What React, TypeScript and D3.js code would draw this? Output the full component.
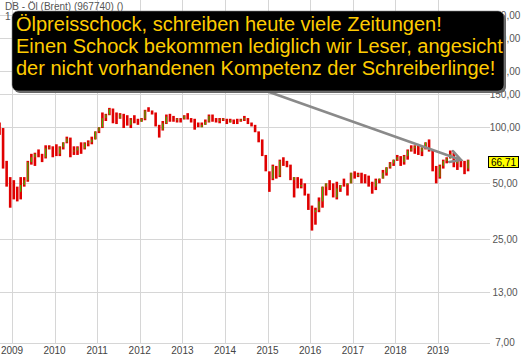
import React, { useEffect, useRef } from "react";
import * as d3 from "d3";

// Brent, monthly open / high / low / close
const y2008 = [
  [102, 106, 91, 98],
  [98, 99, 60, 65],
  [65, 66, 48, 53],
  [53, 54, 37, 45],
];
const y2009 = [
  [46, 52, 41, 46], [46, 48, 40, 45], [45, 54, 41, 49], [49, 54, 48, 52],
  [52, 66, 51, 65], [65, 72, 63, 69], [69, 73, 62, 72], [72, 76, 69, 70],
  [70, 72, 65, 69], [69, 80, 68, 77], [77, 80, 76, 78], [78, 79, 69, 78],
];
const y2010 = [
  [78, 81, 70, 72], [72, 79, 70, 78], [78, 83, 76, 83], [83, 89, 82, 87],
  [87, 88, 69, 74], [74, 79, 71, 75], [75, 79, 71, 78], [78, 83, 72, 77],
  [77, 83, 76, 82], [82, 85, 79, 83], [83, 89, 81, 86], [86, 95, 86, 95],
];
const y2011 = [
  [95, 100, 93, 100], [100, 120, 99, 112], [112, 118, 108, 117], [117, 127, 116, 125],
  [125, 126, 105, 116], [116, 120, 104, 112], [112, 119, 111, 117], [117, 118, 99, 115],
  [115, 116, 102, 103], [103, 112, 99, 110], [110, 116, 105, 110], [110, 111, 103, 107],
];
const y2012 = [
  [107, 112, 107, 111], [111, 124, 109, 123], [123, 128, 121, 123], [123, 123, 117, 119],
  [119, 120, 101, 102], [102, 103, 88, 97], [97, 108, 96, 105], [105, 117, 104, 114],
  [114, 118, 107, 112], [112, 115, 107, 109], [109, 112, 106, 111], [111, 112, 106, 111],
];
const y2013 = [
  [111, 116, 110, 115], [115, 119, 110, 111], [111, 112, 106, 110], [110, 111, 97, 102],
  [102, 106, 100, 100], [100, 106, 100, 103], [103, 110, 103, 107], [107, 117, 106, 115],
  [115, 117, 107, 108], [108, 112, 106, 108], [108, 112, 105, 110], [110, 112, 108, 111],
];
const y2014 = [
  [111, 111, 104, 106], [106, 111, 106, 109], [109, 110, 104, 108], [108, 111, 104, 108],
  [108, 111, 107, 110], [110, 115, 108, 112], [112, 112, 104, 106], [106, 106, 101, 103],
  [103, 103, 94, 95], [95, 95, 83, 85], [85, 86, 70, 70], [70, 71, 58, 57],
];
const y2015 = [
  [57, 58, 45, 53], [53, 63, 52, 62], [62, 62, 53, 55], [55, 67, 54, 66],
  [66, 69, 62, 65], [65, 66, 61, 63], [63, 63, 52, 52], [52, 54, 42, 54],
  [54, 54, 47, 48], [48, 53, 47, 49], [49, 50, 43, 44], [44, 44, 36, 37],
];
const y2016 = [
  [37, 38, 27.9, 35], [35, 37, 30, 36], [36, 42, 35, 40], [40, 48, 37, 48],
  [48, 50, 43, 50], [50, 52, 46, 50], [50, 50, 42, 42], [42, 51, 41, 47],
  [47, 49, 45, 49], [49, 53, 48, 49], [49, 50, 43, 50], [50, 57, 50, 57],
];
const y2017 = [
  [57, 58, 53, 55], [55, 57, 54, 56], [56, 57, 50, 53], [53, 56, 50, 52],
  [52, 55, 48, 50], [50, 51, 44, 48], [48, 53, 46, 52], [52, 53, 50, 53],
  [53, 59, 53, 57], [57, 61, 55, 61], [61, 65, 60, 64], [64, 67, 62, 67],
];
const y2018 = [
  [67, 71, 66, 69], [69, 70, 62, 65], [65, 71, 63, 70], [70, 76, 67, 75],
  [75, 80, 74, 77], [77, 80, 72, 79], [79, 80, 71, 74], [74, 78, 70, 78],
  [78, 83, 76, 83], [83, 86, 74, 75], [75, 76, 58, 59], [59, 62, 50, 54],
];
const y2019 = [
  [54, 63, 53, 62], [62, 67, 60, 66], [66, 69, 64, 68], [68, 75, 68, 72],
  [72, 73, 61, 64], [64, 67, 59, 65], [65, 67, 61, 65], [65, 66, 56, 60],
  [60, 67, 58, 66.71],
];

const years = [2009, 2010, 2011, 2012, 2013, 2014, 2015, 2016, 2017, 2018, 2019];
const priceTicks = [7, 13, 25, 50, 100, 150, 200, 300, 400];
const lastPrice = 66.71;

const title = "DB - Öl (Brent) (967740) ()";
const noteLines = [
  "Ölpreisschock, schreiben heute viele Zeitungen!",
  "Einen Schock bekommen lediglich wir Leser, angesicht",
  "der nicht vorhandenen Kompetenz der Schreiberlinge!",
];

const W = 530;
const H = 359;
const UP = "#3cb800";
const DOWN = "#e00000";
const GRID = "#d6d6d6";
const FONT = "'Liberation Sans', Arial, sans-serif";

function OilChart() {
  const svgRef = useRef(null);

  useEffect(() => {
    const svg = d3.select(svgRef.current);
    svg.selectAll("*").remove();

    const rows = [
      ...y2008, ...y2009, ...y2010, ...y2011, ...y2012, ...y2013,
      ...y2014, ...y2015, ...y2016, ...y2017, ...y2018, ...y2019,
    ];
    const months = d3.timeMonth.range(new Date(2008, 8, 1), new Date(2019, 9, 1));
    const data = rows.map((r, i) => ({
      date: months[i],
      open: r[0],
      high: r[1],
      low: r[2],
      close: r[3],
    }));

    const x = d3
      .scaleTime()
      .domain([new Date(2009, 0, 1), new Date(2019, 0, 1)])
      .range([12, 438]);
    const y = d3.scaleLog().domain([7, 400]).range([342.5, 15]);

    // grid
    const grid = svg.append("g");
    grid
      .selectAll(".hg")
      .data(priceTicks)
      .join("line")
      .attr("x1", 0)
      .attr("x2", 490)
      .attr("y1", d => Math.round(y(d)) + 0.5)
      .attr("y2", d => Math.round(y(d)) + 0.5)
      .attr("stroke", GRID);
    grid
      .selectAll(".vg")
      .data(years)
      .join("line")
      .attr("x1", d => Math.round(x(new Date(d, 0, 1))) + 0.5)
      .attr("x2", d => Math.round(x(new Date(d, 0, 1))) + 0.5)
      .attr("y1", 0)
      .attr("y2", Math.round(y(7)))
      .attr("stroke", GRID);

    // axis labels
    const fmt = d3.format(".2f");
    svg
      .append("g")
      .selectAll("text")
      .data(priceTicks)
      .join("text")
      .attr("x", 505)
      .attr("y", d => y(d))
      .attr("dy", "0.35em")
      .attr("text-anchor", "middle")
      .attr("font-family", FONT)
      .attr("font-size", 10)
      .attr("fill", "#555")
      .text(d => fmt(d).replace(".", ","));
    svg
      .append("g")
      .selectAll("text")
      .data(years)
      .join("text")
      .attr("x", d => x(new Date(d, 0, 1)))
      .attr("y", 354)
      .attr("text-anchor", "middle")
      .attr("font-family", FONT)
      .attr("font-size", 10)
      .attr("fill", "#444")
      .text(d => d);

    // candles: red high-low bar, thin green body for up months
    const cx = d => (x(d.date) + x(d3.timeMonth.offset(d.date, 1))) / 2;
    const candles = svg.append("g").selectAll("g").data(data).join("g");
    candles
      .append("rect")
      .attr("x", d => cx(d) - 1.3)
      .attr("width", 2.6)
      .attr("y", d => y(d.high))
      .attr("height", d => Math.max(1, y(d.low) - y(d.high)))
      .attr("fill", DOWN);
    candles
      .filter(d => d.close > d.open)
      .append("rect")
      .attr("x", d => cx(d) - 0.6)
      .attr("width", 1.2)
      .attr("y", d => y(d.close))
      .attr("height", d => Math.max(1, y(d.open) - y(d.close)))
      .attr("fill", UP);

    // title
    svg
      .append("text")
      .attr("x", 5)
      .attr("y", 10)
      .attr("font-family", FONT)
      .attr("font-size", 10)
      .attr("fill", "#555")
      .text(title);
    svg
      .append("text")
      .attr("x", 5)
      .attr("y", 20)
      .attr("font-family", FONT)
      .attr("font-size", 10)
      .attr("fill", "#555")
      .text("1");

    // arrow from the note to the last price
    const tip = [461, y(lastPrice)];
    const from = [255, 87];
    const ang = Math.atan2(tip[1] - from[1], tip[0] - from[0]);
    const arm = 12;
    const a1 = [tip[0] - arm * Math.cos(ang - 0.5), tip[1] - arm * Math.sin(ang - 0.5)];
    const a2 = [tip[0] - arm * Math.cos(ang + 0.5), tip[1] - arm * Math.sin(ang + 0.5)];
    svg
      .append("path")
      .attr("d", `M${from}L${tip}M${a1}L${tip}L${a2}`)
      .attr("fill", "none")
      .attr("stroke", "#8a8a8a")
      .attr("stroke-width", 2.5)
      .attr("stroke-linecap", "round");

    // note box
    svg
      .append("rect")
      .attr("x", 14)
      .attr("y", 13)
      .attr("width", 492)
      .attr("height", 80)
      .attr("rx", 6)
      .attr("fill", "#666");
    svg
      .append("rect")
      .attr("x", 12)
      .attr("y", 11)
      .attr("width", 492)
      .attr("height", 80)
      .attr("rx", 6)
      .attr("fill", "#000")
      .attr("stroke", "#888")
      .attr("stroke-width", 0.6);
    svg
      .append("g")
      .selectAll("text")
      .data(noteLines)
      .join("text")
      .attr("x", 16)
      .attr("y", (d, i) => 30.5 + i * 22)
      .attr("font-family", FONT)
      .attr("font-size", 20)
      .attr("fill", "#ffcc00")
      .text(d => d);

    // last price label
    const ly = y(lastPrice);
    svg
      .append("rect")
      .attr("x", 488.5)
      .attr("y", Math.round(ly) - 3.5)
      .attr("width", 30)
      .attr("height", 11)
      .attr("fill", "#ffff00")
      .attr("stroke", "#000")
      .attr("stroke-width", 1);
    svg
      .append("text")
      .attr("x", 503.5)
      .attr("y", Math.round(ly) + 2)
      .attr("dy", "0.35em")
      .attr("text-anchor", "middle")
      .attr("font-family", FONT)
      .attr("font-size", 10)
      .attr("fill", "#000")
      .text(fmt(lastPrice).replace(".", ","));
  }, []);

  return (
    <svg
      ref={svgRef}
      width={W}
      height={H}
      style={{ position: "absolute", left: 0, top: 0, background: "#fff" }}
    />
  );
}

export default function App() {
  return <OilChart />;
}
